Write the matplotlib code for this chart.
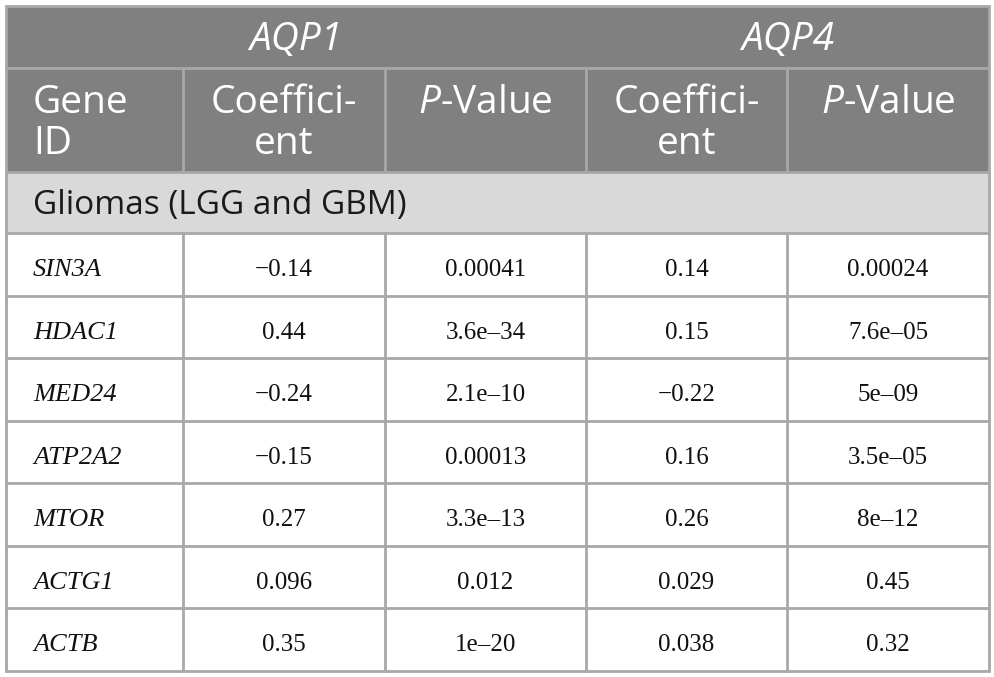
import matplotlib
matplotlib.use('Agg')
import matplotlib.pyplot as plt
from matplotlib.patches import Rectangle

# table contents
genes = ['SIN3A', 'HDAC1', 'MED24', 'ATP2A2', 'MTOR', 'ACTG1', 'ACTB']
aqp1_coef = ['\u22120.14', '0.44', '\u22120.24', '\u22120.15', '0.27', '0.096', '0.35']
aqp1_pval = ['0.00041', '3.6e\u201334', '2.1e\u201310', '0.00013', '3.3e\u201313', '0.012', '1e\u201320']
aqp4_coef = ['0.14', '0.15', '\u22120.22', '0.16', '0.26', '0.029', '0.038']
aqp4_pval = ['0.00024', '7.6e\u201305', '5e\u201309', '3.5e\u201305', '8e\u201312', '0.45', '0.32']
groups = ['AQP1', 'AQP4']
col_heads = ['Gene\nID', 'Coeffici-\nent', '$\\mathit{P}$-Value', 'Coeffici-\nent', '$\\mathit{P}$-Value']
section = 'Gliomas (LGG and GBM)'

plt.rcParams['mathtext.fontset'] = 'custom'
plt.rcParams['mathtext.rm'] = 'Open Sans'
plt.rcParams['mathtext.it'] = 'Open Sans:italic'

# layout (pixels)
col_x = [6, 183, 385, 586, 787, 989]
y_top, y_h1, y_h2, y_sec = 6, 68, 172, 233
y_bot = 671
row_h = (y_bot - y_sec) / len(genes)

hdr_bg = '#808080'
sec_bg = '#d9d9d9'
line_c = '#a8a8a8'
sans = 'Open Sans'
serif = 'Liberation Serif'
hfs = 28

fig = plt.figure(figsize=(9.95, 6.77), dpi=100)
ax = fig.add_axes([0, 0, 1, 1])
ax.set_xlim(0, 995)
ax.set_ylim(677, 0)
ax.axis('off')

# backgrounds
ax.add_patch(Rectangle((col_x[0], y_top), col_x[-1] - col_x[0], y_h2 - y_top, color=hdr_bg, lw=0))
ax.add_patch(Rectangle((col_x[0], y_h2), col_x[-1] - col_x[0], y_sec - y_h2, color=sec_bg, lw=0))

# group headers (AQP1 spans the Gene ID column too)
ax.text((col_x[0] + col_x[3]) / 2, 50, groups[0], color='white',
        fontsize=hfs, fontfamily=sans, style='italic', ha='center', va='baseline')
ax.text((col_x[3] + col_x[5]) / 2, 50, groups[1], color='white',
        fontsize=hfs, fontfamily=sans, style='italic', ha='center', va='baseline')

# column headers, one text per line
for i, h in enumerate(col_heads):
    for k, line in enumerate(h.split('\n')):
        yb = 113 + 41 * k
        if i == 0:
            ax.text(col_x[0] + 27, yb, line, color='white', fontsize=hfs,
                    fontfamily=sans, ha='left', va='baseline')
        else:
            ax.text((col_x[i] + col_x[i + 1]) / 2, yb, line, color='white',
                    fontsize=hfs, fontfamily=sans, ha='center', va='baseline')

ax.text(col_x[0] + 27, 214, section, color='#1a1a1a', fontsize=24,
        fontfamily=sans, ha='left', va='baseline')

# data rows
cols = [genes, aqp1_coef, aqp1_pval, aqp4_coef, aqp4_pval]
for r in range(len(genes)):
    yb = y_sec + r * row_h + 43
    for c, vals in enumerate(cols):
        if c == 0:
            ax.text(col_x[0] + 27, yb, vals[r], fontsize=19, fontfamily=serif,
                    style='italic', color='#111111', ha='left', va='baseline')
        else:
            ax.text((col_x[c] + col_x[c + 1]) / 2, yb, vals[r], fontsize=18,
                    fontfamily=serif, color='#111111', ha='center', va='baseline')

# grid lines
lw = 2
for yy in [y_h1, y_h2, y_sec] + [y_sec + k * row_h for k in range(1, len(genes))]:
    ax.plot([col_x[0], col_x[-1]], [yy, yy], color=line_c, lw=lw, solid_capstyle='butt')
for xx in col_x[1:-1]:
    ax.plot([xx, xx], [y_h1, y_h2], color=line_c, lw=lw)
    ax.plot([xx, xx], [y_sec, y_bot], color=line_c, lw=lw)
ax.add_patch(Rectangle((col_x[0], y_top), col_x[-1] - col_x[0], y_bot - y_top,
                       fill=False, edgecolor=line_c, lw=lw))

fig.savefig('out.png', dpi=100, facecolor='white')
